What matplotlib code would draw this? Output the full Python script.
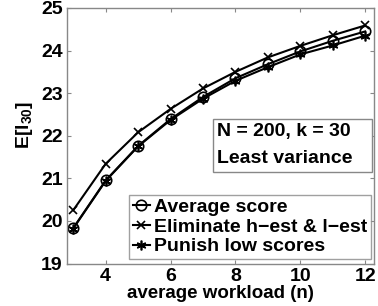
import numpy as np
from matplotlib import pyplot as plt
from matplotlib.patches import Rectangle

plt.rcParams['font.family'] = ['Liberation Sans', 'DejaVu Sans']
plt.rcParams['font.weight'] = 'bold'
plt.rcParams['mathtext.fontset'] = 'custom'
plt.rcParams['mathtext.rm'] = 'Liberation Sans:bold'
plt.rcParams['mathtext.bf'] = 'Liberation Sans:bold'
plt.rcParams['mathtext.default'] = 'bf'

workload = [3, 4, 5, 6, 7, 8, 9, 10, 11, 12]
avg_score = [19.83, 20.95, 21.76, 22.39, 22.91, 23.35, 23.68, 23.98, 24.23, 24.45]
eliminate = [20.25, 21.34, 22.08, 22.63, 23.11, 23.50, 23.84, 24.11, 24.36, 24.59]
punish = [19.82, 20.94, 21.75, 22.37, 22.87, 23.29, 23.61, 23.91, 24.12, 24.35]
labels = ['Average score', 'Eliminate h\u2212est & l\u2212est', 'Punish low scores']
note_lines = ['N = 200, k = 30', 'Least variance']

FS = 14
W, H = 378.0, 306.0
fig = plt.figure(figsize=(W / 100, H / 100), dpi=100)
ax = fig.add_axes([66.7 / W, 1 - 263.5 / H, 307.6 / W, 255.5 / H])

def ax_x(px):
    return (px - 66.7) / 307.6

def ax_y(py):
    return (263.5 - py) / 255.5

ax.plot(workload, avg_score, color='k', lw=1.5, marker='o', ms=7.5,
        mfc='none', mew=1.2, label=labels[0])
ax.plot(workload, eliminate, color='k', lw=1.5, marker='x', ms=6,
        mew=1.2, label=labels[1])
ax.plot(workload, punish, color='k', lw=1.5, marker=(6, 2, 0), ms=7,
        mew=1.2, label=labels[2])

ax.set_xlim(2.8, 12.28)
ax.set_ylim(19, 25)
ax.set_xticks([4, 6, 8, 10, 12])
ax.set_yticks([19, 20, 21, 22, 23, 24, 25])
ax.tick_params(direction='in', length=3, top=True, right=True,
               labelsize=FS, color='#888888')
ax.tick_params(axis='x', pad=3)
ax.tick_params(axis='y', pad=3)
for sp in ax.spines.values():
    sp.set_color('#888888')
    sp.set_linewidth(1.0)

ax.set_xlabel('average workload (n)', fontsize=13.5, fontweight='bold', labelpad=0.5)
ax.set_ylabel(r'E[l$_{30}$]', fontsize=FS, fontweight='bold')
ax.yaxis.set_label_coords(ax_x(35), ax_y(124.5))

leg = ax.legend(loc='lower right', bbox_to_anchor=(ax_x(370.7), ax_y(259.3)),
                fontsize=FS, handlelength=0.86, handletextpad=0.2,
                borderpad=0.2, labelspacing=0.1, fancybox=False,
                frameon=True, borderaxespad=0)
leg.get_frame().set_edgecolor('#888888')
leg.get_frame().set_linewidth(1.0)

# note box
x0, x1 = ax_x(212.7), ax_x(371.7)
y0, y1 = ax_y(172.3), ax_y(119)
ax.add_patch(Rectangle((x0, y0), x1 - x0, y1 - y0, transform=ax.transAxes,
                       fc='white', ec='#888888', lw=1.0, zorder=5))
for line, base in zip(note_lines, [136, 162.7]):
    ax.text(ax_x(216.7), ax_y(base), line, transform=ax.transAxes,
            ha='left', va='baseline', fontsize=FS, fontweight='bold', zorder=6)

fig.savefig('out.png', dpi=100)
